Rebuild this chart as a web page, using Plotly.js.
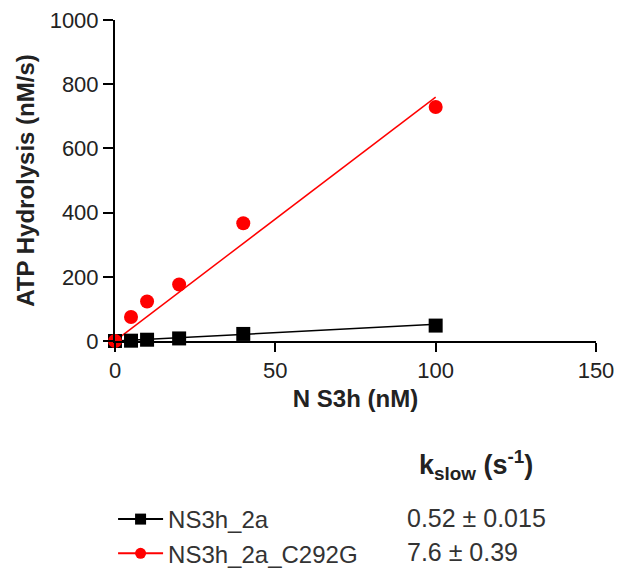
<!DOCTYPE html>
<html>
<head>
<meta charset="utf-8">
<script src="https://cdn.plot.ly/plotly-3.0.1.min.js"></script>
<style>html,body{margin:0;padding:0;background:#fff;}#chart{width:620px;height:571px;}</style>
</head>
<body>
<div id="chart"></div>
<script>
// Data
var concentrations = [0, 5, 10, 20, 40, 100];           // NS3h (nM)
var rateWT = [0, 1, 4, 8, 22, 48];                      // NS3h_2a (nM/s)
var rateMut = [0, 75, 123, 176, 367, 729];              // NS3h_2a_C292G (nM/s)
var seriesNames = ["NS3h_2a", "NS3h_2a_C292G"];
var kslowLabels = ["0.52 \u00b1 0.015", "7.6 \u00b1 0.39"];
var kslowValues = [0.52, 7.6];                          // fitted slopes (s^-1)
var fitRange = [0, 100];
var xTicks = [0, 50, 100, 150];
var yTicks = [0, 200, 400, 600, 800, 1000];

var colors = ["#000000", "#ff0000"];
var symbols = ["square", "circle"];
var sizes = [14, 14];
var rates = [rateWT, rateMut];

function fitLine(slope) {
  return fitRange.map(function (v) { return v * slope; });
}

var traces = [];
for (var i = 0; i < 2; i++) {
  traces.push({
    x: fitRange, y: fitLine(kslowValues[i]),
    mode: "lines", type: "scatter",
    line: {color: colors[i], width: 1.5},
    showlegend: false, hoverinfo: "skip", cliponaxis: false
  });
}
for (var j = 0; j < 2; j++) {
  traces.push({
    x: concentrations, y: rates[j],
    mode: "markers", type: "scatter",
    marker: {color: colors[j], symbol: symbols[j], size: sizes[j]},
    showlegend: false, cliponaxis: false
  });
}
for (var k = 0; k < 2; k++) {
  traces.push({
    x: [null], y: [null],
    mode: "lines+markers", type: "scatter",
    name: seriesNames[k], legendgroup: "g" + k,
    line: {color: colors[k], width: 2},
    marker: {color: colors[k], symbol: symbols[k], size: 11}
  });
}

var fam = "Liberation Sans, Arial, sans-serif";
var tickFont = {family: fam, size: 22, color: "#222"};
var textFont = {family: fam, size: 24, color: "#333"};
var titleFont = {family: fam, size: 24, color: "#222"};

// plot area: top 20px, bottom 341px (height 321) -> paper y for a pixel row
function paperY(px) { return (341 - px) / 321; }

var annotations = [{
  xref: "paper", yref: "paper", x: 0.628, y: paperY(465), xanchor: "left", yanchor: "middle",
  text: "<b>k<sub>slow</sub> (s<sup>-1</sup>)</b>", showarrow: false,
  font: {family: fam, size: 27, color: "#222"}
}];
var rowPx = [518, 552];
for (var m = 0; m < 2; m++) {
  annotations.push({
    xref: "paper", yref: "paper", x: 0.603, y: paperY(rowPx[m]), xanchor: "left", yanchor: "middle",
    text: kslowLabels[m], showarrow: false, font: {family: fam, size: 25, color: "#333"}
  });
}

var layout = {
  width: 620, height: 571,
  margin: {l: 115, r: 24, t: 20, b: 230},
  paper_bgcolor: "#fff", plot_bgcolor: "#fff",
  font: tickFont,
  showlegend: true,
  legend: {
    xref: "paper", yref: "container",
    x: -0.004, y: 1 - 497 / 571, xanchor: "left", yanchor: "top",
    font: textFont, traceorder: "grouped", tracegroupgap: 0, itemwidth: 45,
    bgcolor: "rgba(0,0,0,0)"
  },
  xaxis: {
    range: [0, 150], tickvals: xTicks, ticks: "outside", ticklen: 9, tickwidth: 2, tickcolor: "#000",
    showline: true, linewidth: 2, linecolor: "#000", showgrid: false, zeroline: false,
    tickfont: tickFont,
    title: {text: "<b>N S3h (nM)</b>", font: titleFont, standoff: 8}
  },
  yaxis: {
    range: [0, 1000], tickvals: yTicks, ticks: "outside", ticklen: 10, tickwidth: 2, tickcolor: "#000",
    showline: true, linewidth: 2, linecolor: "#000", showgrid: false, zeroline: false,
    tickfont: tickFont,
    title: {text: "<b>ATP Hydrolysis (nM/s)</b>", font: titleFont, standoff: 8}
  },
  annotations: annotations
};

Plotly.newPlot("chart", traces, layout, {displayModeBar: false, staticPlot: true});
</script>
</body>
</html>
